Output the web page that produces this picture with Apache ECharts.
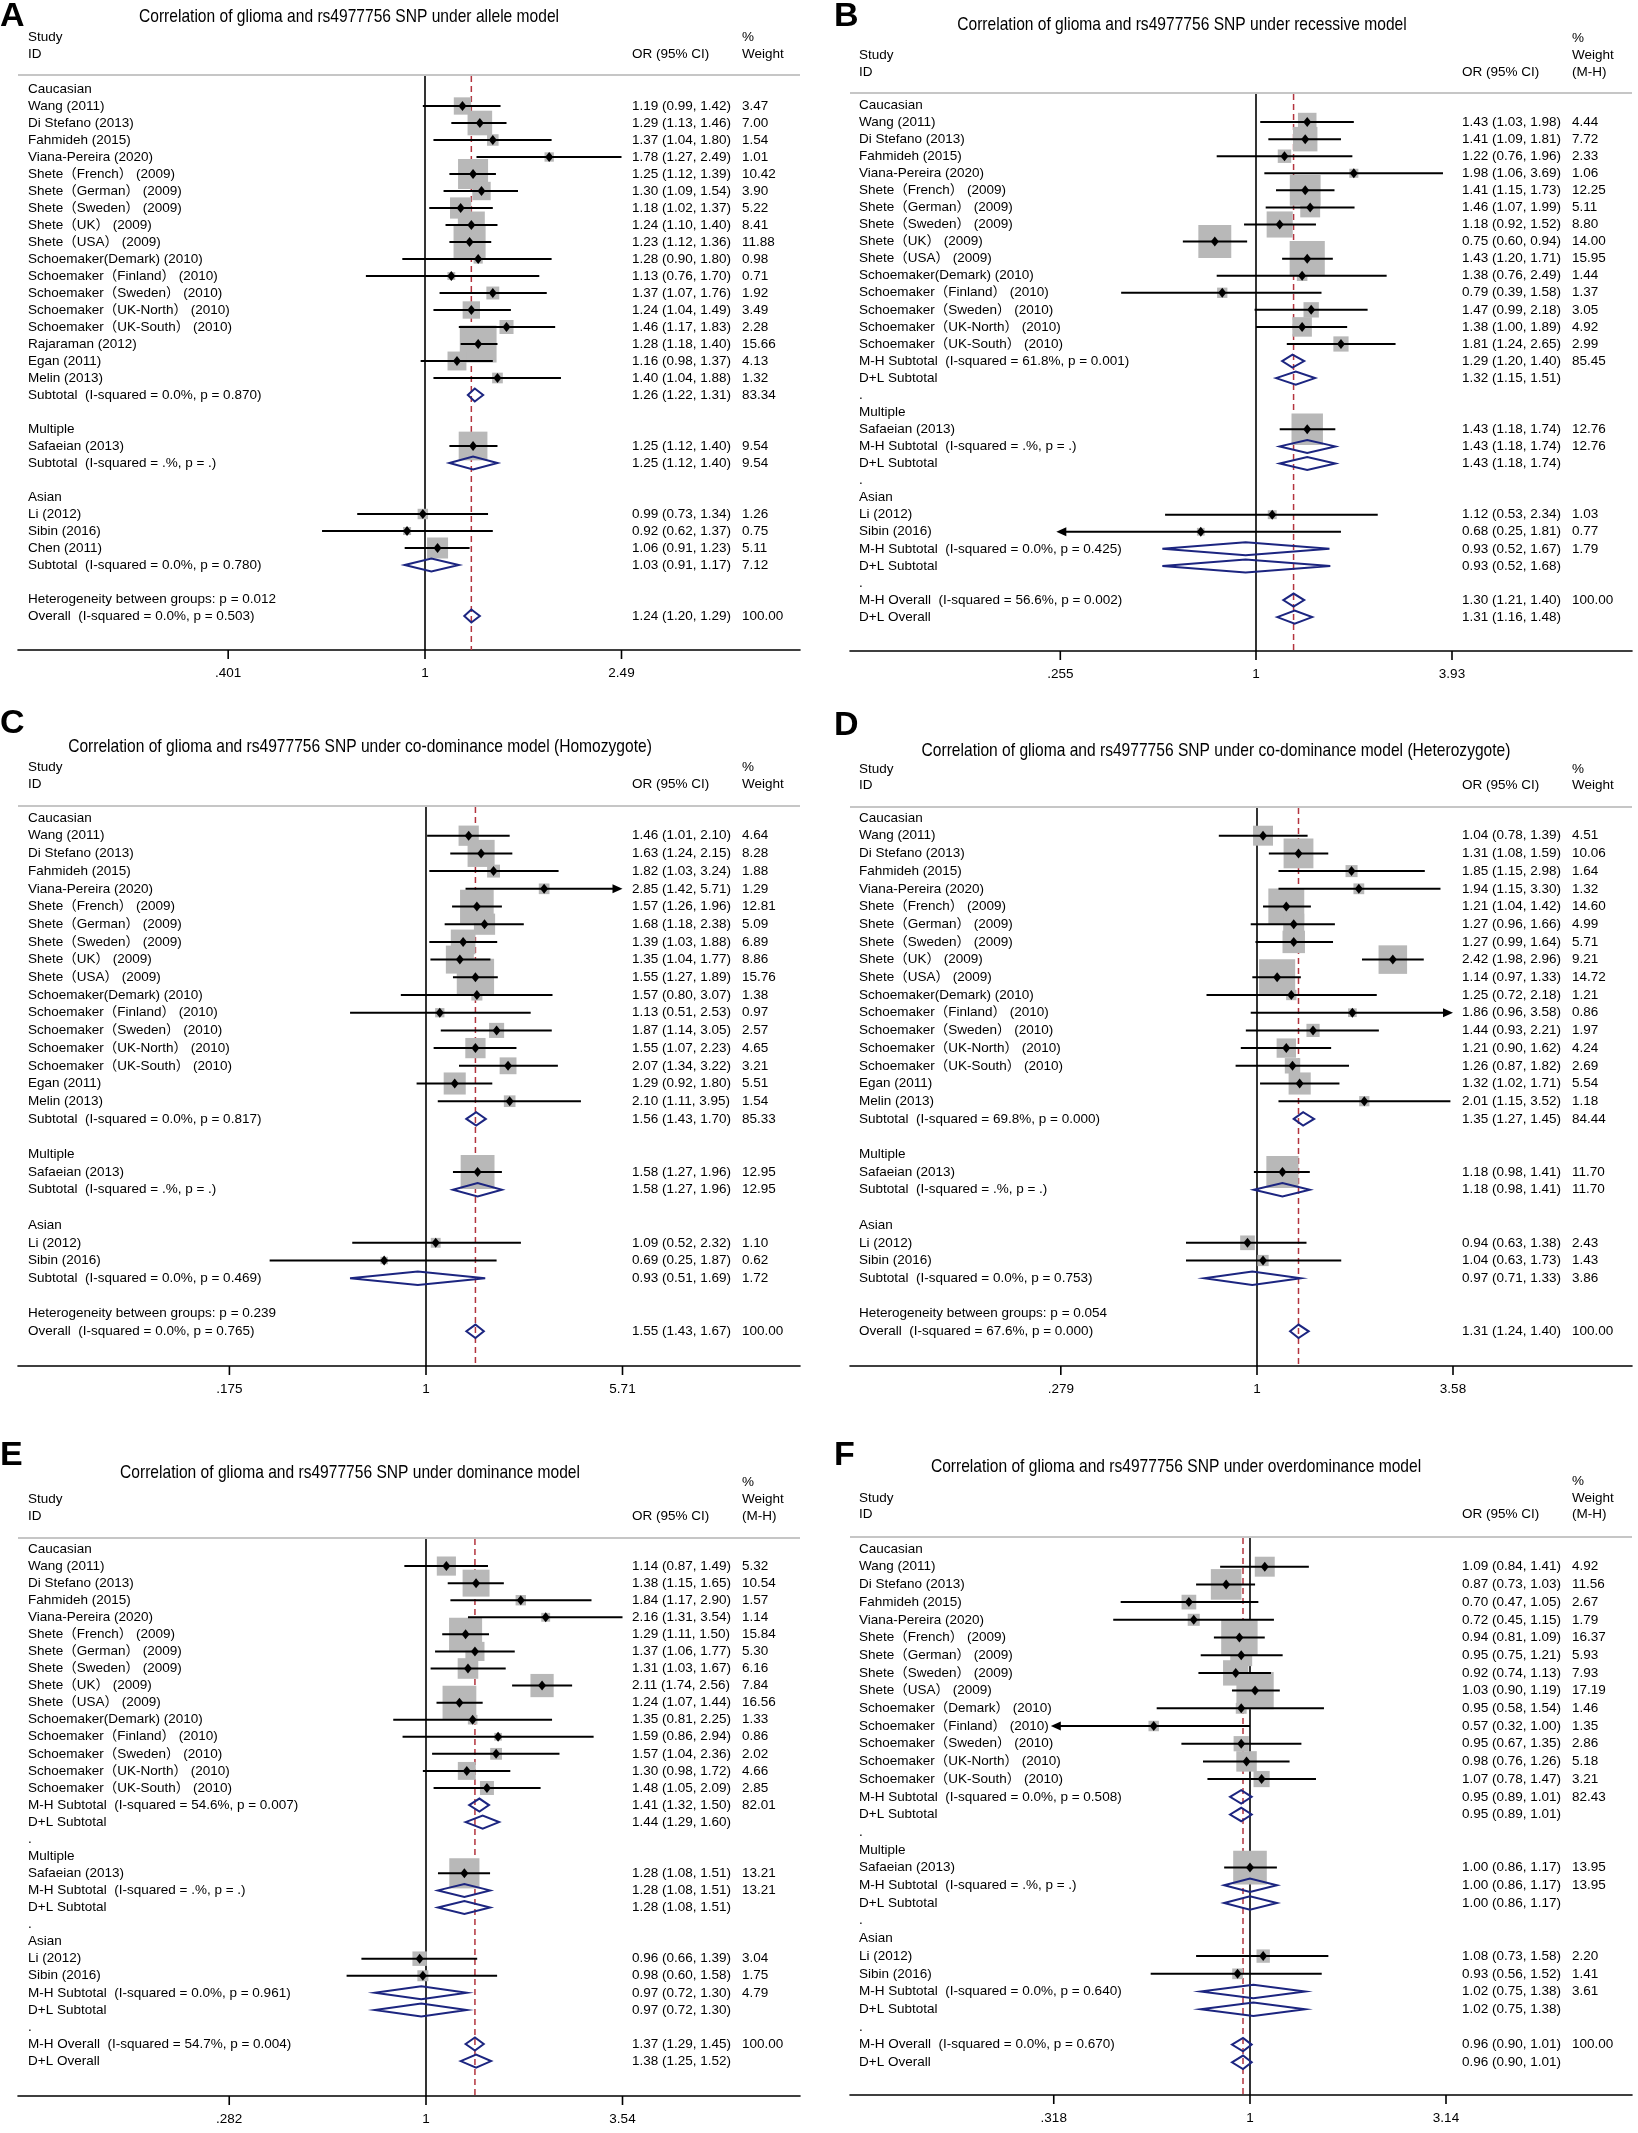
<!DOCTYPE html>
<html>
<head>
<meta charset="utf-8">
<script src="https://cdn.jsdelivr.net/npm/echarts@6/dist/echarts.min.js"></script>
<style>
  html, body { margin: 0; padding: 0; background: #fff; }
  #chart { width: 1638px; height: 2133px; }
</style>
</head>
<body>
<div id="chart"></div>
<script>
// ---- data: one set of arrays per panel, row order as in the figure ----
const titleA = 'Correlation of glioma and rs4977756 SNP under allele model'
const labelsA = ['Caucasian', 'Wang (2011)', 'Di Stefano (2013)', 'Fahmideh (2015)', 'Viana-Pereira (2020)',
  'Shete（French） (2009)', 'Shete（German） (2009)', 'Shete（Sweden） (2009)', 'Shete（UK） (2009)', 'Shete（USA） (2009)',
  'Schoemaker(Demark) (2010)', 'Schoemaker（Finland） (2010)', 'Schoemaker（Sweden） (2010)', 'Schoemaker（UK-North） (2010)',
  'Schoemaker（UK-South） (2010)', 'Rajaraman (2012)', 'Egan (2011)', 'Melin (2013)',
  'Subtotal  (I-squared = 0.0%, p = 0.870)', '', 'Multiple', 'Safaeian (2013)', 'Subtotal  (I-squared = .%, p = .)', '',
  'Asian', 'Li (2012)', 'Sibin (2016)', 'Chen (2011)', 'Subtotal  (I-squared = 0.0%, p = 0.780)', '',
  'Heterogeneity between groups: p = 0.012', 'Overall  (I-squared = 0.0%, p = 0.503)']
const orA = [null, 1.19, 1.29, 1.37, 1.78, 1.25, 1.30, 1.18, 1.24, 1.23, 1.28, 1.13, 1.37, 1.24, 1.46, 1.28, 1.16, 1.40, 1.26, null, null, 1.25, 1.25, null, null, 0.99, 0.92, 1.06, 1.03, null, null, 1.24]
const lowA = [null, 0.99, 1.13, 1.04, 1.27, 1.12, 1.09, 1.02, 1.10, 1.12, 0.90, 0.76, 1.07, 1.04, 1.17, 1.18, 0.98, 1.04, 1.22, null, null, 1.12, 1.12, null, null, 0.73, 0.62, 0.91, 0.91, null, null, 1.20]
const highA = [null, 1.42, 1.46, 1.80, 2.49, 1.39, 1.54, 1.37, 1.40, 1.36, 1.80, 1.70, 1.76, 1.49, 1.83, 1.40, 1.37, 1.88, 1.31, null, null, 1.40, 1.40, null, null, 1.34, 1.37, 1.23, 1.17, null, null, 1.29]
const weightA = [null, 3.47, 7.00, 1.54, 1.01, 10.42, 3.90, 5.22, 8.41, 11.88, 0.98, 0.71, 1.92, 3.49, 2.28, 15.66, 4.13, 1.32, 83.34, null, null, 9.54, 9.54, null, null, 1.26, 0.75, 5.11, 7.12, null, null, 100.00]
const ticksA = [0.401, 1, 2.49]
const tickLabelsA = ['.401', '1', '2.49']

const titleB = 'Correlation of glioma and rs4977756 SNP under recessive model'
const labelsB = ['Caucasian', 'Wang (2011)', 'Di Stefano (2013)', 'Fahmideh (2015)', 'Viana-Pereira (2020)',
  'Shete（French） (2009)', 'Shete（German） (2009)', 'Shete（Sweden） (2009)', 'Shete（UK） (2009)', 'Shete（USA） (2009)',
  'Schoemaker(Demark) (2010)', 'Schoemaker（Finland） (2010)', 'Schoemaker（Sweden） (2010)', 'Schoemaker（UK-North） (2010)',
  'Schoemaker（UK-South） (2010)', 'M-H Subtotal  (I-squared = 61.8%, p = 0.001)', 'D+L Subtotal', '.',
  'Multiple', 'Safaeian (2013)', 'M-H Subtotal  (I-squared = .%, p = .)', 'D+L Subtotal', '.',
  'Asian', 'Li (2012)', 'Sibin (2016)', 'M-H Subtotal  (I-squared = 0.0%, p = 0.425)', 'D+L Subtotal', '.',
  'M-H Overall  (I-squared = 56.6%, p = 0.002)', 'D+L Overall']
const orB = [null, 1.43, 1.41, 1.22, 1.98, 1.41, 1.46, 1.18, 0.75, 1.43, 1.38, 0.79, 1.47, 1.38, 1.81, 1.29, 1.32, null, null, 1.43, 1.43, 1.43, null, null, 1.12, 0.68, 0.93, 0.93, null, 1.30, 1.31]
const lowB = [null, 1.03, 1.09, 0.76, 1.06, 1.15, 1.07, 0.92, 0.60, 1.20, 0.76, 0.39, 0.99, 1.00, 1.24, 1.20, 1.15, null, null, 1.18, 1.18, 1.18, null, null, 0.53, 0.25, 0.52, 0.52, null, 1.21, 1.16]
const highB = [null, 1.98, 1.81, 1.96, 3.69, 1.73, 1.99, 1.52, 0.94, 1.71, 2.49, 1.58, 2.18, 1.89, 2.65, 1.40, 1.51, null, null, 1.74, 1.74, 1.74, null, null, 2.34, 1.81, 1.67, 1.68, null, 1.40, 1.48]
const weightB = [null, 4.44, 7.72, 2.33, 1.06, 12.25, 5.11, 8.80, 14.00, 15.95, 1.44, 1.37, 3.05, 4.92, 2.99, 85.45, null, null, null, 12.76, 12.76, null, null, null, 1.03, 0.77, 1.79, null, null, 100.00, null]
const ticksB = [0.255, 1, 3.93]
const tickLabelsB = ['.255', '1', '3.93']

const titleC = 'Correlation of glioma and rs4977756 SNP under co-dominance model (Homozygote)'
const labelsC = ['Caucasian', 'Wang (2011)', 'Di Stefano (2013)', 'Fahmideh (2015)', 'Viana-Pereira (2020)',
  'Shete（French） (2009)', 'Shete（German） (2009)', 'Shete（Sweden） (2009)', 'Shete（UK） (2009)', 'Shete（USA） (2009)',
  'Schoemaker(Demark) (2010)', 'Schoemaker（Finland） (2010)', 'Schoemaker（Sweden） (2010)', 'Schoemaker（UK-North） (2010)',
  'Schoemaker（UK-South） (2010)', 'Egan (2011)', 'Melin (2013)', 'Subtotal  (I-squared = 0.0%, p = 0.817)', '',
  'Multiple', 'Safaeian (2013)', 'Subtotal  (I-squared = .%, p = .)', '',
  'Asian', 'Li (2012)', 'Sibin (2016)', 'Subtotal  (I-squared = 0.0%, p = 0.469)', '',
  'Heterogeneity between groups: p = 0.239', 'Overall  (I-squared = 0.0%, p = 0.765)']
const orC = [null, 1.46, 1.63, 1.82, 2.85, 1.57, 1.68, 1.39, 1.35, 1.55, 1.57, 1.13, 1.87, 1.55, 2.07, 1.29, 2.10, 1.56, null, null, 1.58, 1.58, null, null, 1.09, 0.69, 0.93, null, null, 1.55]
const lowC = [null, 1.01, 1.24, 1.03, 1.42, 1.26, 1.18, 1.03, 1.04, 1.27, 0.80, 0.51, 1.14, 1.07, 1.34, 0.92, 1.11, 1.43, null, null, 1.27, 1.27, null, null, 0.52, 0.25, 0.51, null, null, 1.43]
const highC = [null, 2.10, 2.15, 3.24, 5.71, 1.96, 2.38, 1.88, 1.77, 1.89, 3.07, 2.53, 3.05, 2.23, 3.22, 1.80, 3.95, 1.70, null, null, 1.96, 1.96, null, null, 2.32, 1.87, 1.69, null, null, 1.67]
const weightC = [null, 4.64, 8.28, 1.88, 1.29, 12.81, 5.09, 6.89, 8.86, 15.76, 1.38, 0.97, 2.57, 4.65, 3.21, 5.51, 1.54, 85.33, null, null, 12.95, 12.95, null, null, 1.10, 0.62, 1.72, null, null, 100.00]
const ticksC = [0.175, 1, 5.71]
const tickLabelsC = ['.175', '1', '5.71']

const titleD = 'Correlation of glioma and rs4977756 SNP under co-dominance model (Heterozygote)'
const labelsD = ['Caucasian', 'Wang (2011)', 'Di Stefano (2013)', 'Fahmideh (2015)', 'Viana-Pereira (2020)',
  'Shete（French） (2009)', 'Shete（German） (2009)', 'Shete（Sweden） (2009)', 'Shete（UK） (2009)', 'Shete（USA） (2009)',
  'Schoemaker(Demark) (2010)', 'Schoemaker（Finland） (2010)', 'Schoemaker（Sweden） (2010)', 'Schoemaker（UK-North） (2010)',
  'Schoemaker（UK-South） (2010)', 'Egan (2011)', 'Melin (2013)', 'Subtotal  (I-squared = 69.8%, p = 0.000)', '',
  'Multiple', 'Safaeian (2013)', 'Subtotal  (I-squared = .%, p = .)', '',
  'Asian', 'Li (2012)', 'Sibin (2016)', 'Subtotal  (I-squared = 0.0%, p = 0.753)', '',
  'Heterogeneity between groups: p = 0.054', 'Overall  (I-squared = 67.6%, p = 0.000)']
const orD = [null, 1.04, 1.31, 1.85, 1.94, 1.21, 1.27, 1.27, 2.42, 1.14, 1.25, 1.86, 1.44, 1.21, 1.26, 1.32, 2.01, 1.35, null, null, 1.18, 1.18, null, null, 0.94, 1.04, 0.97, null, null, 1.31]
const lowD = [null, 0.78, 1.08, 1.15, 1.15, 1.04, 0.96, 0.99, 1.98, 0.97, 0.72, 0.96, 0.93, 0.90, 0.87, 1.02, 1.15, 1.27, null, null, 0.98, 0.98, null, null, 0.63, 0.63, 0.71, null, null, 1.24]
const highD = [null, 1.39, 1.59, 2.98, 3.30, 1.42, 1.66, 1.64, 2.96, 1.33, 2.18, 3.58, 2.21, 1.62, 1.82, 1.71, 3.52, 1.45, null, null, 1.41, 1.41, null, null, 1.38, 1.73, 1.33, null, null, 1.40]
const weightD = [null, 4.51, 10.06, 1.64, 1.32, 14.60, 4.99, 5.71, 9.21, 14.72, 1.21, 0.86, 1.97, 4.24, 2.69, 5.54, 1.18, 84.44, null, null, 11.70, 11.70, null, null, 2.43, 1.43, 3.86, null, null, 100.00]
const ticksD = [0.279, 1, 3.58]
const tickLabelsD = ['.279', '1', '3.58']

const titleE = 'Correlation of glioma and rs4977756 SNP under dominance model'
const labelsE = ['Caucasian', 'Wang (2011)', 'Di Stefano (2013)', 'Fahmideh (2015)', 'Viana-Pereira (2020)',
  'Shete（French） (2009)', 'Shete（German） (2009)', 'Shete（Sweden） (2009)', 'Shete（UK） (2009)', 'Shete（USA） (2009)',
  'Schoemaker(Demark) (2010)', 'Schoemaker（Finland） (2010)', 'Schoemaker（Sweden） (2010)', 'Schoemaker（UK-North） (2010)',
  'Schoemaker（UK-South） (2010)', 'M-H Subtotal  (I-squared = 54.6%, p = 0.007)', 'D+L Subtotal', '.',
  'Multiple', 'Safaeian (2013)', 'M-H Subtotal  (I-squared = .%, p = .)', 'D+L Subtotal', '.',
  'Asian', 'Li (2012)', 'Sibin (2016)', 'M-H Subtotal  (I-squared = 0.0%, p = 0.961)', 'D+L Subtotal', '.',
  'M-H Overall  (I-squared = 54.7%, p = 0.004)', 'D+L Overall']
const orE = [null, 1.14, 1.38, 1.84, 2.16, 1.29, 1.37, 1.31, 2.11, 1.24, 1.35, 1.59, 1.57, 1.30, 1.48, 1.41, 1.44, null, null, 1.28, 1.28, 1.28, null, null, 0.96, 0.98, 0.97, 0.97, null, 1.37, 1.38]
const lowE = [null, 0.87, 1.15, 1.17, 1.31, 1.11, 1.06, 1.03, 1.74, 1.07, 0.81, 0.86, 1.04, 0.98, 1.05, 1.32, 1.29, null, null, 1.08, 1.08, 1.08, null, null, 0.66, 0.60, 0.72, 0.72, null, 1.29, 1.25]
const highE = [null, 1.49, 1.65, 2.90, 3.54, 1.50, 1.77, 1.67, 2.56, 1.44, 2.25, 2.94, 2.36, 1.72, 2.09, 1.50, 1.60, null, null, 1.51, 1.51, 1.51, null, null, 1.39, 1.58, 1.30, 1.30, null, 1.45, 1.52]
const weightE = [null, 5.32, 10.54, 1.57, 1.14, 15.84, 5.30, 6.16, 7.84, 16.56, 1.33, 0.86, 2.02, 4.66, 2.85, 82.01, null, null, null, 13.21, 13.21, null, null, null, 3.04, 1.75, 4.79, null, null, 100.00, null]
const ticksE = [0.282, 1, 3.54]
const tickLabelsE = ['.282', '1', '3.54']

const titleF = 'Correlation of glioma and rs4977756 SNP under overdominance model'
const labelsF = ['Caucasian', 'Wang (2011)', 'Di Stefano (2013)', 'Fahmideh (2015)', 'Viana-Pereira (2020)',
  'Shete（French） (2009)', 'Shete（German） (2009)', 'Shete（Sweden） (2009)', 'Shete（USA） (2009)',
  'Schoemaker（Demark） (2010)', 'Schoemaker（Finland） (2010)', 'Schoemaker（Sweden） (2010)', 'Schoemaker（UK-North） (2010)',
  'Schoemaker（UK-South） (2010)', 'M-H Subtotal  (I-squared = 0.0%, p = 0.508)', 'D+L Subtotal', '.',
  'Multiple', 'Safaeian (2013)', 'M-H Subtotal  (I-squared = .%, p = .)', 'D+L Subtotal', '.',
  'Asian', 'Li (2012)', 'Sibin (2016)', 'M-H Subtotal  (I-squared = 0.0%, p = 0.640)', 'D+L Subtotal', '.',
  'M-H Overall  (I-squared = 0.0%, p = 0.670)', 'D+L Overall']
const orF = [null, 1.09, 0.87, 0.70, 0.72, 0.94, 0.95, 0.92, 1.03, 0.95, 0.57, 0.95, 0.98, 1.07, 0.95, 0.95, null, null, 1.00, 1.00, 1.00, null, null, 1.08, 0.93, 1.02, 1.02, null, 0.96, 0.96]
const lowF = [null, 0.84, 0.73, 0.47, 0.45, 0.81, 0.75, 0.74, 0.90, 0.58, 0.32, 0.67, 0.76, 0.78, 0.89, 0.89, null, null, 0.86, 0.86, 0.86, null, null, 0.73, 0.56, 0.75, 0.75, null, 0.90, 0.90]
const highF = [null, 1.41, 1.03, 1.05, 1.15, 1.09, 1.21, 1.13, 1.19, 1.54, 1.00, 1.35, 1.26, 1.47, 1.01, 1.01, null, null, 1.17, 1.17, 1.17, null, null, 1.58, 1.52, 1.38, 1.38, null, 1.01, 1.01]
const weightF = [null, 4.92, 11.56, 2.67, 1.79, 16.37, 5.93, 7.93, 17.19, 1.46, 1.35, 2.86, 5.18, 3.21, 82.43, null, null, null, 13.95, 13.95, null, null, null, 2.20, 1.41, 3.61, null, null, 100.00, null]
const ticksF = [0.318, 1, 3.14]
const tickLabelsF = ['.318', '1', '3.14']

// ---- layout ----
const FONT = '"Liberation Sans", Arial, "Noto Sans CJK SC", sans-serif'
const rowFont = '13.5px ' + FONT
const titleFont = '19px ' + FONT
const letterFont = 'bold 34px ' + FONT
const NAVY = '#1c2580'
const RED = '#b3343e'

const LEFT = { L: 18, R: 800, dist: 196.5, xs: 28, xo: 632, xw: 742, xl: 0 }
const RIGHT = { L: 850, R: 1632, dist: 196, xs: 859, xo: 1462, xw: 1572, xl: 834 }

const panels = [
  { letter: 'A', title: titleA, labels: labelsA, or: orA, low: lowA, high: highA, weight: weightA, ticks: ticksA, tickLabels: tickLabelsA,
    col: LEFT, cx: 425, sep: 75, row0: 89, rowH: 17.0, axisY: 650, titleX: 349, titleY: 17, letterY: 17,
    head: { study: 37, id: 54, or: 54, pct: 37, weight: 54 }, box: 9.3, arrows: {} },
  { letter: 'B', title: titleB, labels: labelsB, or: orB, low: lowB, high: highB, weight: weightB, ticks: ticksB, tickLabels: tickLabelsB,
    col: RIGHT, cx: 1256, sep: 93, row0: 105, rowH: 17.07, axisY: 651, titleX: 1182, titleY: 25, letterY: 17,
    head: { study: 55, id: 72, or: 72, pct: 38, weight: 55, mh: 72 }, box: 8.8, arrows: { 25: 'left' } },
  { letter: 'C', title: titleC, labels: labelsC, or: orC, low: lowC, high: highC, weight: weightC, ticks: ticksC, tickLabels: tickLabelsC,
    col: LEFT, cx: 426, sep: 806, row0: 818, rowH: 17.7, axisY: 1366, titleX: 360, titleY: 747, letterY: 724,
    head: { study: 767, id: 784, or: 784, pct: 767, weight: 784 }, box: 9.4, arrows: { 4: 'right' } },
  { letter: 'D', title: titleD, labels: labelsD, or: orD, low: lowD, high: highD, weight: weightD, ticks: ticksD, tickLabels: tickLabelsD,
    col: RIGHT, cx: 1257, sep: 807, row0: 818, rowH: 17.7, axisY: 1366, titleX: 1216, titleY: 751, letterY: 726,
    head: { study: 769, id: 785, or: 785, pct: 769, weight: 785 }, box: 9.4, arrows: { 11: 'right' } },
  { letter: 'E', title: titleE, labels: labelsE, or: orE, low: lowE, high: highE, weight: weightE, ticks: ticksE, tickLabels: tickLabelsE,
    col: LEFT, cx: 426, sep: 1538, row0: 1549, rowH: 17.07, axisY: 2096, titleX: 350, titleY: 1473, letterY: 1456,
    head: { study: 1499, id: 1516, or: 1516, pct: 1482, weight: 1499, mh: 1516 }, box: 8.3, arrows: {} },
  { letter: 'F', title: titleF, labels: labelsF, or: orF, low: lowF, high: highF, weight: weightF, ticks: ticksF, tickLabels: tickLabelsF,
    col: RIGHT, cx: 1250, sep: 1537, row0: 1549, rowH: 17.7, axisY: 2095, titleX: 1176, titleY: 1467, letterY: 1456,
    head: { study: 1498, id: 1514, or: 1514, pct: 1481, weight: 1498, mh: 1514 }, box: 9.0, arrows: { 10: 'left' } }
]

const isPooled = (label) => /Subtotal|Overall/.test(label)
const f2 = (v) => v.toFixed(2)

function txt(text, x, y, font, align) {
  return {
    type: 'text', x: x, y: y, silent: true,
    style: { text: text, font: font, fill: '#000', align: align || 'left', verticalAlign: 'middle',
      textAlign: align || 'left', textVerticalAlign: 'middle' }
  }
}

const chart = echarts.init(document.getElementById('chart'), null, { renderer: 'canvas' })
const grid = [], xAxis = [], yAxis = [], series = [], graphic = []

panels.forEach((p, i) => {
  const c = p.col
  const lnHi = Math.log(p.ticks[2])
  const xMin = Math.exp(-(p.cx - c.L) / c.dist * lnHi)
  const xMax = Math.exp((c.R - p.cx) / c.dist * lnHi)
  const yMin = (p.sep - p.row0) / p.rowH
  const yMax = (p.axisY - p.row0) / p.rowH

  grid.push({ left: c.L, top: p.sep, width: c.R - c.L, height: p.axisY - p.sep })
  xAxis.push({
    type: 'log', gridIndex: i, min: xMin, max: xMax,
    axisLine: { show: true, onZero: false, lineStyle: { color: '#000', width: 1.6 } },
    axisTick: { show: false }, axisLabel: { show: false },
    splitLine: { show: false }, minorTick: { show: false }, minorSplitLine: { show: false }
  })
  yAxis.push({ type: 'value', gridIndex: i, inverse: true, min: yMin, max: yMax, show: false })

  const overallRow = p.labels.findIndex(l => /Overall/.test(l))
  const overall = p.or[overallRow]

  // null line at 1 and dashed line at the overall estimate
  series.push({
    type: 'custom', xAxisIndex: i, yAxisIndex: i, z: 1, silent: true,
    data: [[1, 0, 0], [overall, 0, 1]], encode: { x: 0, y: 1 },
    renderItem: (params, api) => {
      const v = api.value(0)
      const top = api.coord([v, yMin])
      const bot = api.coord([v, yMax])
      const dashed = api.value(2) === 1
      return {
        type: 'line', shape: { x1: top[0], y1: top[1] + 1, x2: bot[0], y2: bot[1] },
        style: { stroke: dashed ? RED : '#000', lineWidth: dashed ? 1.5 : 1.6, lineDash: dashed ? [6, 4] : null }
      }
    }
  })

  // axis ticks and labels at the stata tick values
  series.push({
    type: 'custom', xAxisIndex: i, yAxisIndex: i, z: 5, silent: true,
    data: p.ticks.map(t => [t, yMax]), encode: { x: 0, y: 1 },
    renderItem: (params, api) => {
      const pt = api.coord([api.value(0), yMax])
      return {
        type: 'group', children: [
          { type: 'line', shape: { x1: pt[0], y1: pt[1], x2: pt[0], y2: pt[1] + 9 }, style: { stroke: '#000', lineWidth: 1.6 } },
          txt(p.tickLabels[params.dataIndex], pt[0], pt[1] + 23, rowFont, 'center')
        ]
      }
    }
  })

  const studies = [], pooled = []
  p.labels.forEach((l, r) => {
    if (p.or[r] == null) return
    if (isPooled(l)) pooled.push([p.or[r], p.low[r], p.high[r], r])
    else studies.push([p.or[r], p.low[r], p.high[r], p.weight[r], r])
  })

  // grey weight boxes
  series.push({
    type: 'custom', xAxisIndex: i, yAxisIndex: i, z: 2, silent: true,
    data: studies, encode: { x: 0, y: 4 },
    renderItem: (params, api) => {
      const pt = api.coord([api.value(0), api.value(4)])
      const s = p.box * Math.sqrt(api.value(3))
      return { type: 'rect', shape: { x: pt[0] - s / 2, y: pt[1] - s / 2, width: s, height: s }, style: { fill: '#b8b8b8' } }
    }
  })

  // confidence intervals and point estimates
  series.push({
    type: 'custom', xAxisIndex: i, yAxisIndex: i, z: 3, silent: true,
    data: studies, encode: { x: [0, 1, 2], y: 4 },
    renderItem: (params, api) => {
      const row = api.value(4)
      const pt = api.coord([api.value(0), row])
      const lo = Math.max(api.value(1), p.ticks[0])
      const hi = Math.min(api.value(2), p.ticks[2])
      let x1 = api.coord([lo, row])[0]
      let x2 = api.coord([hi, row])[0]
      const y = pt[1]
      const kids = []
      const dir = p.arrows[row]
      if (dir === 'right') {
        kids.push({ type: 'polygon', shape: { points: [[x2, y], [x2 - 10, y - 4.5], [x2 - 10, y + 4.5]] }, style: { fill: '#000' } })
        x2 -= 8
      } else if (dir === 'left') {
        x1 -= 4
        kids.push({ type: 'polygon', shape: { points: [[x1, y], [x1 + 10, y - 4.5], [x1 + 10, y + 4.5]] }, style: { fill: '#000' } })
        x1 += 8
      }
      kids.unshift({ type: 'line', shape: { x1: x1, y1: y, x2: x2, y2: y }, style: { stroke: '#000', lineWidth: 2 } })
      kids.push({ type: 'polygon', shape: { points: [[pt[0] - 4, y], [pt[0], y - 5], [pt[0] + 4, y], [pt[0], y + 5]] }, style: { fill: '#000' } })
      return { type: 'group', children: kids }
    }
  })

  // pooled estimates as open diamonds
  series.push({
    type: 'custom', xAxisIndex: i, yAxisIndex: i, z: 4, silent: true,
    data: pooled, encode: { x: [0, 1, 2], y: 3 },
    renderItem: (params, api) => {
      const row = api.value(3)
      const c0 = api.coord([api.value(0), row])
      const xl = api.coord([api.value(1), row])[0]
      const xr = api.coord([api.value(2), row])[0]
      const h = p.rowH * 0.38
      return {
        type: 'polygon',
        shape: { points: [[xl, c0[1]], [c0[0], c0[1] - h], [xr, c0[1]], [c0[0], c0[1] + h]] },
        style: { fill: 'none', stroke: NAVY, lineWidth: 2 }
      }
    }
  })

  // row text: study id, OR (95% CI), weight
  series.push({
    type: 'custom', xAxisIndex: i, yAxisIndex: i, z: 6, silent: true,
    data: p.labels.map((l, r) => [1, r]), encode: { x: 0, y: 1 },
    renderItem: (params, api) => {
      const r = api.value(1)
      const y = api.coord([1, r])[1]
      const kids = [txt(p.labels[r], c.xs, y, rowFont)]
      if (p.or[r] != null) kids.push(txt(f2(p.or[r]) + ' (' + f2(p.low[r]) + ', ' + f2(p.high[r]) + ')', c.xo, y, rowFont))
      if (p.weight[r] != null) kids.push(txt(f2(p.weight[r]), c.xw, y, rowFont))
      return { type: 'group', children: kids }
    }
  })

  // headers, title (condensed like the original), panel letter, separator
  graphic.push(txt(p.letter, c.xl, p.letterY, letterFont))
  const t = txt(p.title, p.titleX, p.titleY, titleFont, 'center')
  t.scaleX = 0.82
  graphic.push(t)
  graphic.push(txt('Study', c.xs, p.head.study, rowFont))
  graphic.push(txt('ID', c.xs, p.head.id, rowFont))
  graphic.push(txt('OR (95% CI)', c.xo, p.head.or, rowFont))
  graphic.push(txt('%', c.xw, p.head.pct, rowFont))
  graphic.push(txt('Weight', c.xw, p.head.weight, rowFont))
  if (p.head.mh) graphic.push(txt('(M-H)', c.xw, p.head.mh, rowFont))
  graphic.push({ type: 'line', silent: true, shape: { x1: c.L, y1: p.sep, x2: c.R, y2: p.sep }, style: { stroke: '#c6c6c6', lineWidth: 2 } })
})

chart.setOption({
  animation: false,
  backgroundColor: '#fff',
  grid: grid,
  xAxis: xAxis,
  yAxis: yAxis,
  series: series,
  graphic: graphic
})
</script>
</body>
</html>
